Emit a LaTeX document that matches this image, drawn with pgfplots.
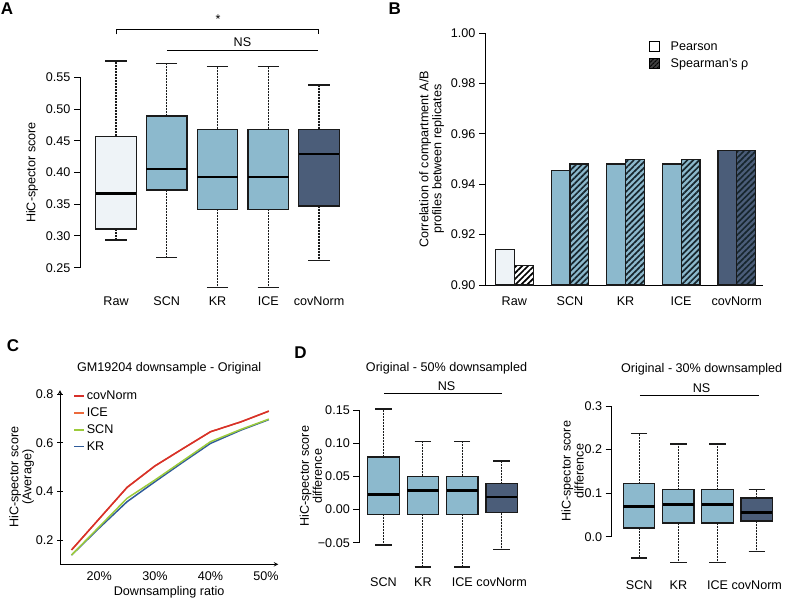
\documentclass[border=0pt]{standalone}
\usepackage{pgfplots}
\pgfplotsset{compat=1.18}
\usepgfplotslibrary{statistics}
\usetikzlibrary{patterns.meta}
\usepackage{fontspec}
\setmainfont{Liberation Sans}

\definecolor{rawfill}{HTML}{EEF3F7}
\definecolor{midfill}{HTML}{8CB9CD}
\definecolor{covfill}{HTML}{4B5D79}
\definecolor{edge}{HTML}{1A1A1A}
\definecolor{hatchc}{HTML}{17262E}
\definecolor{cCov}{HTML}{D7302A}
\definecolor{cIce}{HTML}{EC6A3C}
\definecolor{cScn}{HTML}{9CCB3B}
\definecolor{cKr}{HTML}{2F5B9A}

\newcommand\fs{\fontsize{12.6}{13}\selectfont}

\pgfplotsset{
  myaxis/.style={
    scale only axis,
    anchor=south west,
    font=\fs,
    tick label style={font=\fs},
    label style={font=\fs},
    /pgf/number format/assume math mode=true,
    tick align=outside,
    major tick length=6pt,
    tick style={line width=1pt, color=black},
    axis line style={line width=1pt, -},
    clip=false,
  },
  boxaxis/.style={
    myaxis,
    axis y line*=left,
    axis x line*=bottom,
    x axis line style={draw=none},
    xtick style={draw=none},
    boxplot/draw direction=y,
    boxplot/box extend=0.8,
    boxplot/every box/.style={draw=edge, line width=1.2pt},
    boxplot/every median/.style={draw=black, line width=2.6pt},
    boxplot/every whisker/.style={draw=edge, line width=1.2pt, solid},
    boxplot/draw/lower whisker/.code={
      \draw[/pgfplots/boxplot/every whisker/.try, dash pattern=on 2pt off 1pt]
        (boxplot box cs:\pgfplotsboxplotvalue{lower quartile},0.5) --
        (boxplot box cs:\pgfplotsboxplotvalue{lower whisker},0.5);
      \draw[/pgfplots/boxplot/every whisker/.try]
        (boxplot box cs:\pgfplotsboxplotvalue{lower whisker},0.24) --
        (boxplot box cs:\pgfplotsboxplotvalue{lower whisker},0.76);
    },
    boxplot/draw/upper whisker/.code={
      \draw[/pgfplots/boxplot/every whisker/.try, dash pattern=on 2pt off 1pt]
        (boxplot box cs:\pgfplotsboxplotvalue{upper quartile},0.5) --
        (boxplot box cs:\pgfplotsboxplotvalue{upper whisker},0.5);
      \draw[/pgfplots/boxplot/every whisker/.try]
        (boxplot box cs:\pgfplotsboxplotvalue{upper whisker},0.24) --
        (boxplot box cs:\pgfplotsboxplotvalue{upper whisker},0.76);
    },
  },
}

\begin{document}
\begin{tikzpicture}
\path[use as bounding box] (0,0) rectangle (787pt,598pt);

% panel letters
\node[font=\bfseries\fontsize{17}{17}\selectfont] at (7pt,589pt) {A};
\node[font=\bfseries\fontsize{17}{17}\selectfont] at (394.7pt,589pt) {B};
\node[font=\bfseries\fontsize{17}{17}\selectfont] at (13pt,252pt) {C};
\node[font=\bfseries\fontsize{17}{17}\selectfont] at (300.5pt,245pt) {D};

% ---------------- Panel A ----------------
\begin{axis}[boxaxis, at={(80pt,330.3pt)}, width=269.5pt, height=190.4pt,
  xmin=-0.71, xmax=4.6, ymin=0.25, ymax=0.55,
  xtick={0,1,2,3,4}, xticklabels={Raw,SCN,KR,ICE,covNorm},
  xticklabel style={anchor=base, yshift=-31.8pt},
  ytick={0.25,0.30,0.35,0.40,0.45,0.50,0.55},
  yticklabels={0.25,0.30,0.35,0.40,0.45,0.50,0.55},
  ylabel={HiC-spector score},
  ylabel style={at={(rel axis cs:0,0.5)}, anchor=center, yshift=48pt},
]
\addplot[fill=rawfill, draw=edge, boxplot prepared={draw position=0, lower whisker=0.2937, lower quartile=0.311, median=0.3672, upper quartile=0.457, upper whisker=0.5757}] coordinates {};
\addplot[fill=midfill, draw=edge, boxplot prepared={draw position=1, lower whisker=0.2664, lower quartile=0.3724, median=0.4055, upper quartile=0.489, upper whisker=0.572}] coordinates {};
\addplot[fill=midfill, draw=edge, boxplot prepared={draw position=2, lower whisker=0.219, lower quartile=0.342, median=0.393, upper quartile=0.468, upper whisker=0.5673}] coordinates {};
\addplot[fill=midfill, draw=edge, boxplot prepared={draw position=3, lower whisker=0.219, lower quartile=0.342, median=0.393, upper quartile=0.468, upper whisker=0.5673}] coordinates {};
\addplot[fill=covfill, draw=edge, boxplot prepared={draw position=4, lower whisker=0.261, lower quartile=0.3472, median=0.429, upper quartile=0.468, upper whisker=0.5379}] coordinates {};
% significance brackets
\draw[line width=1pt] (axis cs:0.014,0.6176) -- (axis cs:0.014,0.626) -- (axis cs:3.98,0.626) -- (axis cs:3.98,0.6176);
\node[font=\fs] at (axis cs:2.01,0.642) {*};
\node[font=\fs] at (axis cs:2.49,0.6051) {NS};
\draw[line width=1pt] (axis cs:1.0,0.593) -- (axis cs:3.98,0.593);
\end{axis}

% ---------------- Panel B ----------------
\begin{axis}[myaxis, clip=true, at={(485pt,313pt)}, width=278pt, height=251.7pt,
  xmin=-0.527, xmax=4.473, ymin=0.90, ymax=1.00,
  axis x line*=bottom, axis y line*=left,
  xtick={0,1,2,3,4}, xticklabels={Raw,SCN,KR,ICE,covNorm}, xtick style={draw=none},
  xticklabel style={anchor=base, yshift=-14pt},
  ytick={0.90,0.92,0.94,0.96,0.98,1.00},
  yticklabels={0.90,0.92,0.94,0.96,0.98,1.00},
  ylabel={Correlation of compartment A/B\\profiles between replicates},
  ylabel style={at={(rel axis cs:0,0.5)}, anchor=center, yshift=53.5pt, align=center},
  ybar, bar width=18.8pt,
  legend image code/.code={\draw[#1] (0pt,-5pt) rectangle (10pt,5pt); \path (19pt,0pt);},
  legend cell align=left,
  legend style={at={(axis cs:2.41,0.9976)}, anchor=north west, draw=none, fill=none, font=\fs, row sep=2.6pt, inner sep=0pt},
]
\addplot[forget plot, fill=rawfill, draw=edge, line width=1.2pt, bar shift=-9.4pt] coordinates {(0,0.914)};
\addplot[forget plot, fill=midfill, draw=edge, line width=1.2pt, bar shift=-9.4pt] coordinates {(1,0.9454) (2,0.9481) (3,0.9481)};
\addplot[forget plot, fill=covfill, draw=edge, line width=1.2pt, bar shift=-9.4pt] coordinates {(4,0.9534)};
% Spearman bars: fill, then hatch overlay
\addplot[forget plot, fill=white, draw=edge, line width=1.2pt, bar shift=9.4pt] coordinates {(0,0.9078)};
\addplot[forget plot, fill=midfill, draw=edge, line width=1.2pt, bar shift=9.4pt] coordinates {(1,0.9481) (2,0.9498) (3,0.9498)};
\addplot[forget plot, fill=covfill, draw=edge, line width=1.2pt, bar shift=9.4pt] coordinates {(4,0.9534)};
\addplot[forget plot, pattern={Lines[angle=45,distance=4.2pt,line width=1.7pt]}, pattern color=black, draw=edge, line width=1.2pt, bar shift=9.4pt] coordinates {(0,0.9078)};
\addplot[forget plot, pattern={Lines[angle=45,distance=4.2pt,line width=1.7pt]}, pattern color=hatchc, draw=edge, line width=1.2pt, bar shift=9.4pt] coordinates {(1,0.9481) (2,0.9498) (3,0.9498) (4,0.9534)};
\addlegendimage{fill=white, draw=black, line width=1.2pt}
\addlegendentry{Pearson}
\addlegendimage{fill=black!75, draw=black, line width=1.2pt, postaction={pattern={Lines[angle=45,distance=3pt,line width=0.8pt]}, pattern color=black}}
\addlegendentry{Spearman's ρ}
\end{axis}

% ---------------- Panel C ----------------
\begin{axis}[myaxis, at={(60pt,33.7pt)}, width=218.3pt, height=174.3pt,
  xmin=12.93, xmax=52.2, ymin=0.1, ymax=0.818,
  axis lines=left,
  xtick={20,30,40,50}, xticklabels={20\%,30\%,40\%,50\%}, xtick style={draw=none},
  xticklabel style={anchor=base, yshift=-13.2pt},
  ytick={0.2,0.4,0.6,0.8}, yticklabels={0.2,0.4,0.6,0.8},
  ylabel={HiC-spector score\\(Average)},
  ylabel style={at={(rel axis cs:0,0.5)}, anchor=center, yshift=38.5pt, align=center},
  xlabel={Downsampling ratio},
  xlabel style={at={(rel axis cs:0.5,0)}, anchor=center, yshift=-27.7pt},
  title={GM19204 downsample - Original},
  title style={at={(rel axis cs:0.5,1)}, anchor=center, yshift=15.7pt, font=\fs},
  legend image code/.code={\draw[#1] (0pt,0pt) -- (10pt,0pt);},
  legend cell align=left,
  legend style={at={(rel axis cs:0.06,1.007)}, anchor=north west, draw=none, fill=none, font=\fs, row sep=2.6pt, inner sep=0pt},
  reverse legend,
  every axis plot/.append style={line width=1.5pt},
]
\addplot[cKr] coordinates {(15,0.138) (20,0.25) (25,0.358) (30,0.44) (35,0.52) (40,0.598) (45.5,0.653) (50.5,0.696)};
\addlegendentry{KR}
\addplot[cScn] coordinates {(15,0.138) (20,0.255) (25,0.372) (30,0.447) (35,0.526) (40,0.605) (45.5,0.656) (50.5,0.698)};
\addlegendentry{SCN}
\addplot[cIce] coordinates {(15,0.159) (20,0.288) (25,0.417) (30,0.505) (35,0.576) (40,0.646) (45.5,0.687) (50.5,0.731)};
\addlegendentry{ICE}
\addplot[cCov] coordinates {(15,0.159) (20,0.288) (25,0.417) (30,0.505) (35,0.576) (40,0.646) (45.5,0.687) (50.5,0.731)};
\addlegendentry{covNorm}
\end{axis}

% ---------------- Panel D left ----------------
\begin{axis}[boxaxis, at={(359.3pt,55.3pt)}, width=166pt, height=132.7pt,
  xmin=-0.614, xmax=3.6, ymin=-0.05, ymax=0.15,
  xtick={0,1,2,3}, xticklabels={SCN,KR,ICE,covNorm},
  xticklabel style={anchor=base, yshift=-38pt},
  ytick={-0.05,0,0.05,0.10,0.15},
  yticklabels={−0.05,0.00,0.05,0.10,0.15},
  ylabel={HiC-spector score\\difference},
  ylabel style={at={(rel axis cs:0,0.5)}, anchor=center, yshift=48.5pt, align=center},
]
\addplot[fill=midfill, draw=edge, boxplot prepared={draw position=0, lower whisker=-0.0535, lower quartile=-0.0072, median=0.0229, upper quartile=0.0792, upper whisker=0.1515}] coordinates {};
\addplot[fill=midfill, draw=edge, boxplot prepared={draw position=1, lower whisker=-0.0866, lower quartile=-0.0072, median=0.0289, upper quartile=0.050, upper whisker=0.1023}] coordinates {};
\addplot[fill=midfill, draw=edge, boxplot prepared={draw position=2, lower whisker=-0.0866, lower quartile=-0.0072, median=0.0289, upper quartile=0.050, upper whisker=0.1023}] coordinates {};
\addplot[fill=covfill, draw=edge, boxplot prepared={draw position=3, lower whisker=-0.0605, lower quartile=-0.0047, median=0.0189, upper quartile=0.039, upper whisker=0.0731}] coordinates {};
\node[font=\fs] at (axis cs:1.60,0.2129) {Original - 50\% downsampled};
\node[font=\fs] at (axis cs:1.60,0.1866) {NS};
\draw[line width=1pt] (axis cs:0.013,0.1752) -- (axis cs:3.015,0.1752);
\end{axis}

% ---------------- Panel D right ----------------
\begin{axis}[boxaxis, at={(611.7pt,61.3pt)}, width=168.6pt, height=130.7pt,
  xmin=-0.70, xmax=3.6, ymin=0, ymax=0.3,
  xtick={0,1,2,3}, xticklabels={SCN,KR,ICE,covNorm},
  xticklabel style={anchor=base, yshift=-46.7pt},
  ytick={0,0.1,0.2,0.3},
  yticklabels={0.0,0.1,0.2,0.3},
  ylabel={HiC-spector score\\difference},
  ylabel style={at={(rel axis cs:0,0.5)}, anchor=center, yshift=39pt, align=center},
]
\addplot[fill=midfill, draw=edge, boxplot prepared={draw position=0, lower whisker=-0.0489, lower quartile=0.0199, median=0.0697, upper quartile=0.1217, upper whisker=0.2365}] coordinates {};
\addplot[fill=midfill, draw=edge, boxplot prepared={draw position=1, lower whisker=-0.0597, lower quartile=0.0314, median=0.0743, upper quartile=0.1079, upper whisker=0.2128}] coordinates {};
\addplot[fill=midfill, draw=edge, boxplot prepared={draw position=2, lower whisker=-0.0597, lower quartile=0.0314, median=0.0743, upper quartile=0.1079, upper whisker=0.2128}] coordinates {};
\addplot[fill=covfill, draw=edge, boxplot prepared={draw position=3, lower whisker=-0.0344, lower quartile=0.036, median=0.0559, upper quartile=0.0888, upper whisker=0.1087}] coordinates {};
\node[font=\fs] at (axis cs:1.594,0.385) {Original - 30\% downsampled};
\node[font=\fs] at (axis cs:1.594,0.342) {NS};
\draw[line width=1pt] (axis cs:0.02,0.323) -- (axis cs:3.056,0.323);
\end{axis}
\end{tikzpicture}
\end{document}
